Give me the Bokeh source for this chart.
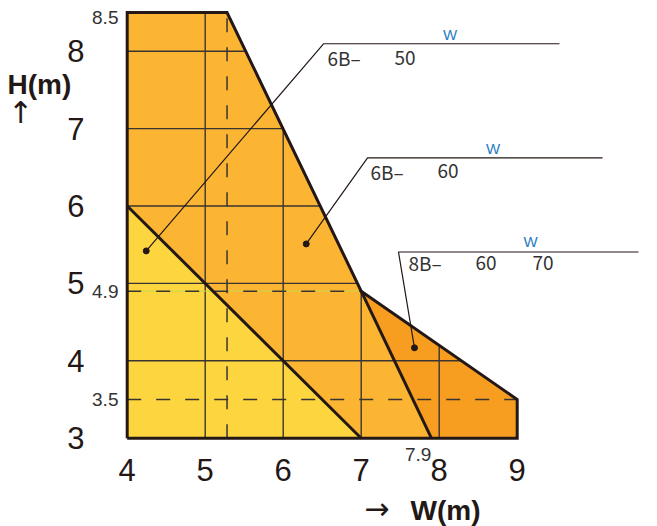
import numpy as np
from bokeh.plotting import figure
from bokeh.models import Range1d, Label, FixedTicker
from bokeh.core.properties import value
from bokeh.embed import file_html
from bokeh.resources import INLINE

# ---- data: working envelopes, W (m) vs H (m) ----
w_50 = [4.0, 4.0, 7.0]
h_50 = [3.0, 6.0, 3.0]
w_60 = [4.0, 4.0, 5.28, 7.0, 7.9]
h_60 = [6.0, 8.5, 8.5, 4.9, 3.0]
w_8b = [7.0, 9.0, 9.0, 7.9]
h_8b = [4.9, 3.5, 3.0, 3.0]

x_ticks = [4, 5, 6, 7, 8, 9]
y_ticks = [3, 4, 5, 6, 7, 8]
grid_w = [5, 6, 7, 8]
grid_h = [4, 5, 6, 7, 8]
ref_h = [8.5, 4.9, 3.5]
ref_w = [7.9]

model_prefix = ["6B–", "6B–", "8B–"]
model_nums = ["50", "60", "60", "70"]

# annotation anchors (leader lines: dot -> corner -> end)
lead_x = [[4.244, 6.517, 9.542], [6.295, 7.081, 10.094], [7.683, 7.478, 10.555]]
lead_y = [[5.42, 8.096, 8.096], [5.51, 6.623, 6.623], [4.168, 5.406, 5.406]]
prefix_x = [6.568, 7.119, 7.606]
prefix_y = [7.918, 6.452, 5.264]
nums_x = [7.427, 7.978, 8.465, 9.196]
nums_y = [7.918, 6.452, 5.264, 5.264]
w_x = [8.138, 8.69, 9.171]
w_y = [8.222, 6.737, 5.535]

INK = "#231815"
C_YEL = "#FDD63F"
C_MID = "#FBB533"
C_DARK = "#F79E20"

p = figure(width=657, height=526,
           x_range=Range1d(2.4269, 10.7474), y_range=Range1d(1.8592, 8.6550),
           output_backend="svg", toolbar_location=None,
           min_border_left=4, min_border_right=4, min_border_top=0, min_border_bottom=0)
p.outline_line_color = None
p.grid.visible = False
p.background_fill_color = "white"

for ax in (p.xaxis, p.yaxis):
    ax.axis_line_color = None
    ax.major_tick_line_color = None
    ax.minor_tick_line_color = None
    ax.major_label_text_font = "Liberation Sans"
    ax.major_label_text_font_size = "31px"
    ax.major_label_text_color = INK
p.xaxis.ticker = FixedTicker(ticks=x_ticks)
p.yaxis.ticker = FixedTicker(ticks=y_ticks)
p.xaxis.major_label_standoff = -74
p.yaxis.major_label_standoff = -86

# ---- regions ----
poly_a_x = w_50
poly_a_y = h_50
poly_b_x = w_60 + [w_50[-1]]
poly_b_y = h_60 + [h_50[-1]]
p.patch(poly_a_x, poly_a_y, fill_color=C_YEL, line_color=None)
p.patch(poly_b_x, poly_b_y, fill_color=C_MID, line_color=None)
p.patch(w_8b, h_8b, fill_color=C_DARK, line_color=None)

# ---- grid clipped to the envelope ----
chain_w = w_60[2:4] + w_8b[1:2]
chain_h = h_60[2:4] + h_8b[1:2]
gx_top = np.interp(grid_w, chain_w, chain_h)
gy_right = np.interp(grid_h, chain_h[::-1], chain_w[::-1])
xs = [[g, g] for g in grid_w] + [[x_ticks[0], r] for r in gy_right]
ys = [[y_ticks[0], t] for t in gx_top] + [[g, g] for g in grid_h]
p.multi_line(xs, ys, line_color="#3a3430", line_width=1.4)

# ---- reference dashed lines ----
p.line([x_ticks[0], w_60[3]], [h_60[3], h_60[3]], line_color="#c9d94a", line_width=1)
p.multi_line([[x_ticks[0], w_60[3]], [x_ticks[0], w_8b[1]], [w_60[2], w_60[2]]],
             [[h_60[3], h_60[3]], [h_8b[1], h_8b[1]], [y_ticks[0], h_60[2]]],
             line_color="#3a3430", line_width=1.5, line_dash="14 15")

# ---- thick outlines ----
outer_x = [x_ticks[0]] + w_60[1:4] + w_8b[1:3] + [x_ticks[0]]
outer_y = [y_ticks[0]] + h_60[1:4] + h_8b[1:3] + [y_ticks[0]]
p.line(outer_x, outer_y, line_color=INK, line_width=3, line_join="miter")
p.line(w_50[1:], h_50[1:], line_color=INK, line_width=3)
p.line(w_60[3:], h_60[3:], line_color=INK, line_width=3)

# ---- leader lines ----
p.multi_line(lead_x, lead_y, line_color=INK, line_width=1.2)
p.scatter([l[0] for l in lead_x], [l[0] for l in lead_y], size=6, color=INK)

# ---- texts inside ----
p.text(prefix_x, prefix_y, text=model_prefix, text_font=value("Noto Sans CJK JP"),
       text_font_size="19px", text_color="#333333", text_baseline="middle", text_align="left")
p.text(nums_x, nums_y, text=model_nums, text_font=value("Noto Sans CJK JP"),
       text_font_size="19px", text_color="#333333", text_baseline="middle", text_align="left")
p.text(w_x, w_y, text=["W"] * 3, text_font=value("Liberation Sans"),
       text_font_size="15px", text_color="#2B7BC2", text_baseline="middle", text_align="center")

p.text([3.888] * 2, ref_h[1:], text=[str(v) for v in ref_h[1:]], text_font=value("Liberation Sans"),
       text_font_size="19px", text_color="#333333", text_baseline="middle", text_align="right")
p.text([3.888], ref_h[:1], text=[str(ref_h[0])], text_font=value("Liberation Sans"),
       text_font_size="19px", text_color="#333333", text_baseline="middle", text_align="right",
       y_offset=5)
p.text(ref_w, [2.793], text=[str(ref_w[0])], text_font=value("Liberation Sans"),
       text_font_size="19px", text_color="#333333", text_baseline="middle", text_align="right")

# ---- axis titles ----
p.add_layout(Label(x=2.4654, y=7.576, text="H(m)", text_font="Liberation Sans",
                   text_font_size="28px", text_font_style="bold", text_color=INK,
                   text_baseline="middle", text_align="left"))
p.add_layout(Label(x=2.632, y=7.2016, text="↑", text_font="DejaVu Sans",
                   text_font_size="30px", text_color=INK,
                   text_baseline="middle", text_align="center"))
p.add_layout(Label(x=7.04, y=2.0917, text="→", text_font="DejaVu Sans",
                   text_font_size="30px", text_color=INK,
                   text_baseline="middle", text_align="left"))
p.add_layout(Label(x=7.632, y=2.066, text="W(m)", text_font="Liberation Sans",
                   text_font_size="28px", text_font_style="bold", text_color=INK,
                   text_baseline="middle", text_align="left"))

open("out.html", "w").write(file_html(p, INLINE))
